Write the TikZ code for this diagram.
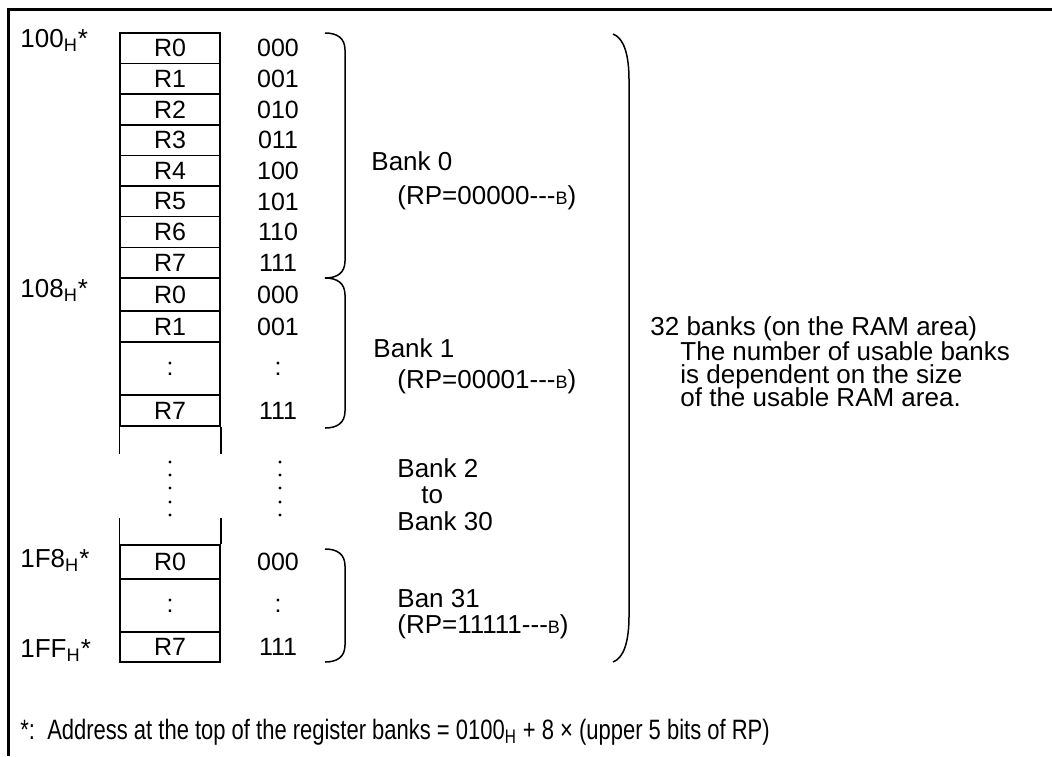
\documentclass[tikz,border=0pt]{standalone}
\usepackage{fontspec}
\setmainfont{Liberation Sans}
\usepackage{graphicx}

\newcommand{\hx}{\textsubscript{H}}
\newcommand{\bn}{{\fontsize{9pt}{9pt}\selectfont B}}

\tikzset{
  cell/.style={draw, line width=0.75pt, minimum width=50pt, inner sep=0pt,
    font=\fontsize{12.5pt}{14pt}\selectfont},
  code/.style={inner sep=0pt, font=\fontsize{12.5pt}{14pt}\selectfont},
  lbl/.style={anchor=base west, inner sep=0pt, font=\fontsize{13pt}{13pt}\selectfont},
  brace/.style={line width=0.75pt},
}

\begin{document}
\begin{tikzpicture}[x=0.5pt, y=-0.5pt]
\useasboundingbox (0,0) rectangle (1052,756);
\draw[line width=1.25pt] (8.5,756) -- (8.5,9.5) -- (1052,9.5);

% bank 0
\foreach \i/\b in {0/000,1/001,2/010,3/011,4/100,5/101,6/110,7/111} {
  \node[cell, minimum height=15.31pt] (a\i) at (170,{48.3+30.625*\i}) {R\i};
  \node[code] (ca\i) at (278,{48.3+30.625*\i}) {\b};
}

% bank 1
\node[cell, minimum height=16.5pt] (b0) at (170,294.5) {R0};
\node[cell, minimum height=15.5pt] (b1) at (170,326.5) {R1};
\node[cell, minimum height=26.5pt] (bx) at (170,368.5) {:};
\node[cell, minimum height=15.5pt] (b7) at (170,410.5) {R7};
\node[code] (cb0) at (278,294.5) {000};
\node[code] (cb1) at (278,326.5) {001};
\node[code] (cbx) at (278,368.5) {:};
\node[code] (cb7) at (278,410.5) {111};
\draw[line width=0.75pt] (b7.south west) -- ++(0,27);
\draw[line width=0.75pt] (b7.south east) -- ++(0,27);

\foreach \y in {462,475,488,502,515} {
  \fill (170,\y) circle (0.8pt);
  \fill (280,\y) circle (0.8pt);
}

% bank 31
\node[cell, minimum height=17pt] (c0) at (170,562) {R0};
\node[cell, minimum height=26.5pt] (cx) at (170,605.5) {:};
\node[cell, minimum height=15pt] (c7) at (170,647) {R7};
\node[code] (cc0) at (278,562) {000};
\node[code] (ccx) at (278,605.5) {:};
\node[code] (cc7) at (278,647) {111};
\draw[line width=0.75pt] (c0.north west) -- ++(0,-26);
\draw[line width=0.75pt] (c0.north east) -- ++(0,-26);

% addresses
\node[lbl] (adr0) at (20,47) {100\hx*};
\node[lbl] (adr1) at (20,297) {108\hx*};
\node[lbl] (adr2) at (20,567) {1F8\hx*};
\node[lbl] (adr3) at (20,657) {1FF\hx*};

% braces
\draw[brace] (325,33) .. controls (337,33) and (345,38) .. (345,50)
  -- (345,261) .. controls (345,273) and (337,278) .. (325,278);
\draw[brace] (325,278) .. controls (337,278) and (345,283) .. (345,295)
  -- (345,411) .. controls (345,423) and (337,428) .. (325,428);
\draw[brace] (325,549) .. controls (337,549) and (345,554) .. (345,566)
  -- (345,645) .. controls (345,657) and (337,662) .. (325,662);
\draw[brace] (613,34) .. controls (624,38) and (629,55) .. (629,80)
  -- (629,616) .. controls (629,641) and (624,658) .. (613,662);

\node[lbl] (bk0) at (371,170) {Bank 0};
\node[lbl] (rp0) at (397,204) {(RP=00000-{}-{}-\bn)};
\node[lbl] (bk1) at (373,357) {Bank 1};
\node[lbl] (rp1) at (397,388) {(RP=00001-{}-{}-\bn)};
\node[lbl] (bk2) at (397,477) {Bank 2};
\node[lbl] (bkto) at (421,503) {to};
\node[lbl] (bk30) at (397,530) {Bank 30};
\node[lbl] (bk31) at (397,607) {Ban 31};
\node[lbl] (rp31) at (397,633) {(RP=11111-{}-{}-\bn)};

\node[lbl] (total) at (650,335) {32 banks (on the RAM area)};
\node[lbl] (use1) at (680,360) {The number of usable banks};
\node[lbl] (use2) at (680,383) {is dependent on the size};
\node[lbl] (use3) at (680,406) {of the usable RAM area.};

\node[lbl, font=\fontsize{14pt}{14pt}\selectfont] (note) at (20,739) {\scalebox{0.785}[1]{*:\ \ Address at the top of the register banks = 0100\hx\ + 8 × (upper 5 bits of RP)}};
\end{tikzpicture}
\end{document}
